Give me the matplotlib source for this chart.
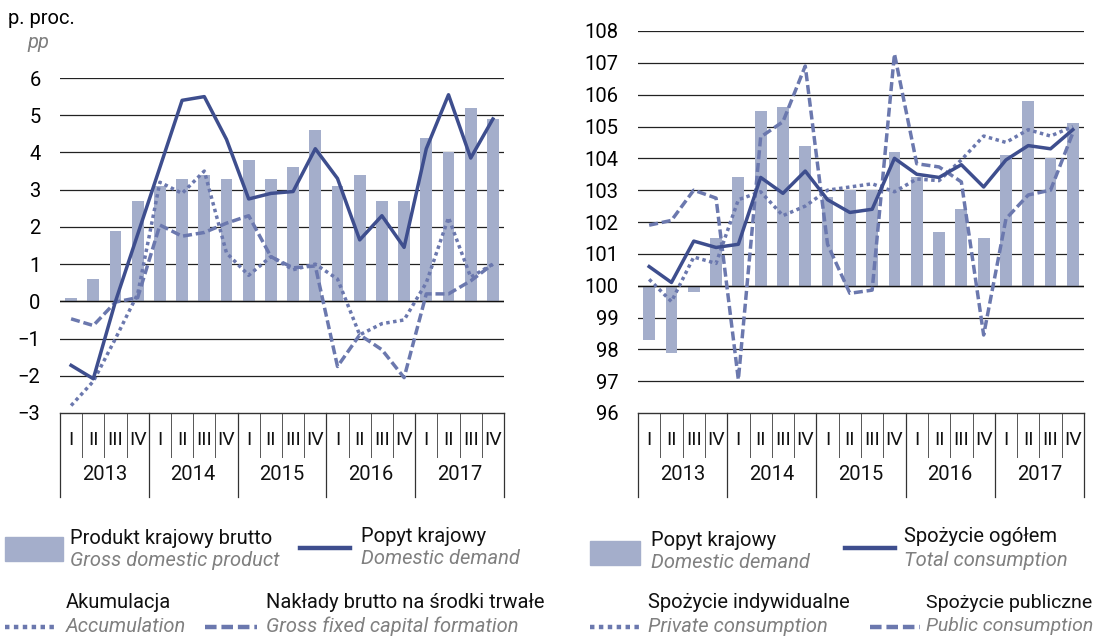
import matplotlib
matplotlib.use("Agg")
import matplotlib.pyplot as plt
from matplotlib.lines import Line2D
from matplotlib.patches import Rectangle

plt.rcParams['font.family'] = ['Roboto', 'DejaVu Sans']

years = ['2013', '2014', '2015', '2016', '2017']
quarters = ['I', 'II', 'III', 'IV']

# left panel: contributions, pp
gdp = [0.1, 0.6, 1.9, 2.7, 3.1, 3.3, 3.4, 3.3, 3.8, 3.3, 3.6, 4.6, 3.1, 3.4, 2.7, 2.7, 4.4, 4.0, 5.2, 4.9]
dom_demand = [-1.72, -2.08, 0.0, 1.8, 3.6, 5.4, 5.5, 4.35, 2.75, 2.9, 2.95, 4.1, 3.3, 1.65, 2.3, 1.45, 4.1, 5.55, 3.85, 4.9]
accumulation = [-2.8, -2.15, -1.0, 0.2, 3.2, 2.9, 3.5, 1.3, 0.7, 1.2, 0.85, 1.0, 0.6, -0.9, -0.6, -0.5, 0.5, 2.25, 0.65, 1.0]
gfcf = [-0.47, -0.65, -0.02, 0.1, 2.05, 1.75, 1.85, 2.1, 2.3, 1.2, 0.9, 0.95, -1.75, -0.9, -1.3, -2.05, 0.2, 0.2, 0.55, 1.0]

# right panel: indices, same period of previous year = 100
dd_index = [98.3, 97.9, 99.8, 101.5, 103.4, 105.5, 105.6, 104.4, 102.8, 103.0, 103.0, 104.2, 103.4, 101.7, 102.4, 101.5, 104.1, 105.8, 104.0, 105.1]
total_cons = [100.6, 100.1, 101.4, 101.2, 101.3, 103.4, 102.9, 103.6, 102.7, 102.3, 102.4, 104.0, 103.5, 103.4, 103.8, 103.1, 103.95, 104.4, 104.3, 104.9]
private_cons = [100.2, 99.5, 100.9, 100.7, 102.7, 102.95, 102.2, 102.5, 103.0, 103.1, 103.2, 102.95, 103.35, 103.3, 103.95, 104.7, 104.5, 104.9, 104.7, 105.0]
public_cons = [101.9, 102.05, 103.0, 102.75, 97.05, 104.67, 105.15, 106.9, 101.3, 99.76, 99.86, 107.28, 103.83, 103.73, 103.26, 98.45, 102.1, 102.85, 103.0, 104.8]

BAR = '#a4aecb'
DARK = '#3e4e8e'
MID = '#6b78ae'
GREY = '#808080'
W, H = 1097, 637
DOT = (0, (1, 1))
DASH = (0, (2.6, 1.1))
FS = 14.5


def fx(x):
    return x / W


def fy(y):
    return 1 - y / H


def category_table(ax, height_px):
    n = len(years) * len(quarters)
    tr = ax.get_xaxis_transform()
    q_len = 44 / height_px
    y_len = 84 / height_px
    for i in range(n + 1):
        xpos = i - 0.5
        if i % 4 == 0:
            ax.plot([xpos, xpos], [0, -y_len], transform=tr, color='#333333', lw=0.9, clip_on=False)
        else:
            ax.plot([xpos, xpos], [0, -q_len], transform=tr, color='#555555', lw=0.7, clip_on=False)
    for i in range(n):
        ax.text(i, -27 / height_px, quarters[i % 4], transform=tr, ha='center', va='center',
                fontsize=14, color='#111111')
    for j, yr in enumerate(years):
        ax.text(j * 4 + 1.5, -61 / height_px, yr, transform=tr, ha='center', va='center',
                fontsize=14.5, color='#111111')


def style_axes(ax, ymin, ymax):
    ax.set_xlim(-0.5, 19.5)
    ax.set_ylim(ymin, ymax)
    ax.set_yticks(range(ymin, ymax + 1))
    ax.set_xticks([])
    ax.tick_params(axis='y', length=0, pad=14, labelsize=14.5)
    for s in ['left', 'right', 'top']:
        ax.spines[s].set_visible(False)
    ax.spines['bottom'].set_color('#333333')
    ax.spines['bottom'].set_linewidth(1.0)
    for v in range(ymin + 1, ymax + 1):
        ax.axhline(v, color='#222222', lw=0.9, zorder=0)


fig = plt.figure(figsize=(W / 100, H / 100), dpi=100)
x = list(range(20))

# left panel
ax1 = fig.add_axes([fx(60), fy(413), (504 - 60) / W, (413 - 78) / H])
style_axes(ax1, -3, 6)
ax1.bar(x, gdp, width=0.53, color=BAR, zorder=1)
ax1.axhline(0, color='#111111', lw=1.0, zorder=1.5)
ax1.plot(x, gfcf, color=MID, lw=2.5, ls=DASH, zorder=2)
ax1.plot(x, accumulation, color=MID, lw=2.5, ls=DOT, zorder=2)
ax1.plot(x, dom_demand, color=DARK, lw=2.5, zorder=3)
category_table(ax1, 413 - 78)
fig.text(fx(8), fy(18), 'p. proc.', fontsize=FS, va='center', ha='left')
fig.text(fx(27), fy(42), 'pp', fontsize=FS, va='center', ha='left', style='italic', color=GREY)

# right panel
ax2 = fig.add_axes([fx(638), fy(413), (1084 - 638) / W, (413 - 31) / H])
style_axes(ax2, 96, 108)
ax2.bar(x, [v - 100 for v in dd_index], bottom=100, width=0.53, color=BAR, zorder=1)
ax2.axhline(100, color='#111111', lw=1.0, zorder=1.5)
ax2.plot(x, public_cons, color=MID, lw=2.5, ls=DASH, zorder=2)
ax2.plot(x, private_cons, color=MID, lw=2.5, ls=DOT, zorder=2)
ax2.plot(x, total_cons, color=DARK, lw=2.5, zorder=3)
category_table(ax2, 413 - 31)

# legends
def legend_item(kind, x0, x1, ymark, xtext, ytop, pl, en, fs=FS):
    if kind == 'bar':
        fig.add_artist(Rectangle((fx(x0), fy(ymark + 12)), (x1 - x0) / W, 24 / H,
                                 transform=fig.transFigure, color=BAR))
    else:
        ls = {'line': '-', 'dot': DOT, 'dash': DASH}[kind]
        col = DARK if kind == 'line' else MID
        fig.add_artist(Line2D([fx(x0), fx(x1)], [fy(ymark), fy(ymark)],
                              transform=fig.transFigure, color=col, lw=3.2, ls=ls))
    fig.text(fx(xtext), fy(ytop), pl, fontsize=fs, va='center', ha='left', color='#111111')
    fig.text(fx(xtext), fy(ytop + 23), en, fontsize=fs, va='center', ha='left',
             style='italic', color=GREY)


legend_item('bar', 5, 63, 549, 70, 538, 'Produkt krajowy brutto', 'Gross domestic product')
legend_item('line', 300, 350, 548, 361, 536, 'Popyt krajowy', 'Domestic demand')
legend_item('dot', 5, 57, 627, 66, 603, 'Akumulacja', 'Accumulation')
legend_item('dash', 205, 257, 627, 266, 603, 'Nakłady brutto na środki trwałe', 'Gross fixed capital formation')

legend_item('bar', 590, 640, 553, 651, 540, 'Popyt krajowy', 'Domestic demand')
legend_item('line', 845, 895, 548, 904, 537, 'Spożycie ogółem', 'Total consumption')
legend_item('dot', 590, 640, 627, 648, 603, 'Spożycie indywidualne', 'Private consumption')
legend_item('dash', 870, 920, 627, 926, 603, 'Spożycie publiczne', 'Public consumption', fs=14)

fig.savefig('out.png', dpi=100)
